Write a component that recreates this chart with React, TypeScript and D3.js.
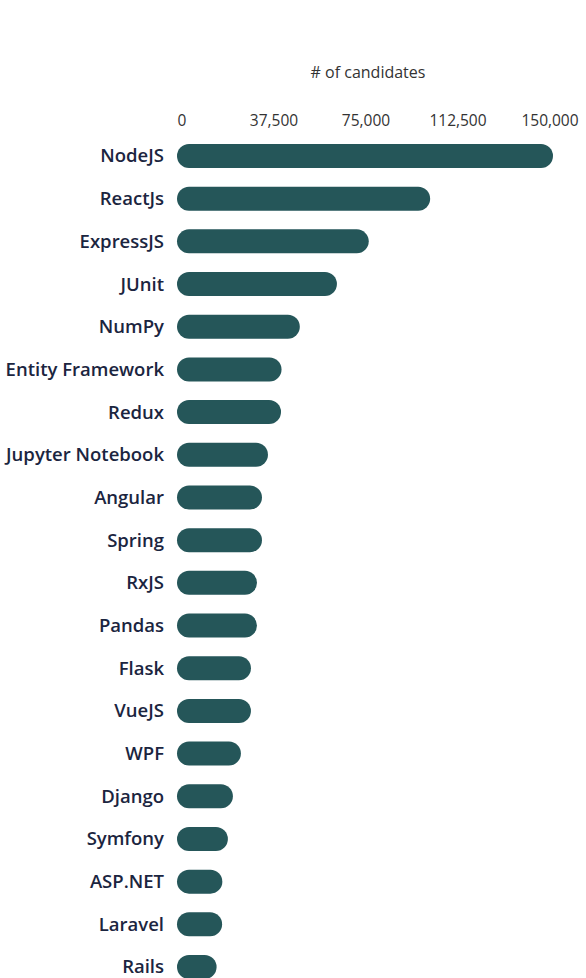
import React, { useEffect, useRef } from "react";
import * as d3 from "d3";

const categories = [
  "NodeJS",
  "ReactJs",
  "ExpressJS",
  "JUnit",
  "NumPy",
  "Entity Framework",
  "Redux",
  "Jupyter Notebook",
  "Angular",
  "Spring",
  "RxJS",
  "Pandas",
  "Flask",
  "VueJS",
  "WPF",
  "Django",
  "Symfony",
  "ASP.NET",
  "Laravel",
  "Rails",
];

const candidates = [
  150000, 101000, 76500, 63800, 49000, 41700, 41500, 36300, 33900, 33900,
  31900, 31900, 29500, 29500, 25500, 22300, 20300, 18100, 18000, 15800,
];

const tickValues = [0, 37500, 75000, 112500, 150000];

const App = () => {
  const svgRef = useRef<SVGSVGElement | null>(null);

  useEffect(() => {
    document.body.style.margin = "0";
    const width = 586;
    const height = 978;
    const barHeight = 24;

    const svg = d3
      .select(svgRef.current)
      .attr("width", width)
      .attr("height", height)
      .style("display", "block")
      .style("font-family", "'Open Sans', sans-serif");

    const x = d3.scaleLinear().domain([0, 150000]).range([177, 553]);
    // tick labels sit slightly inset from the bar extent
    const xTicks = d3.scaleLinear().domain([0, 150000]).range([182, 550]);
    const y = d3.scalePoint<string>().domain(categories).range([156, 967]);

    // axis title
    svg
      .append("text")
      .attr("x", 368)
      .attr("y", 78)
      .attr("text-anchor", "middle")
      .attr("font-size", 16)
      .attr("fill", "#333")
      .text("# of candidates");

    // tick labels
    svg
      .append("g")
      .selectAll("text")
      .data(tickValues)
      .join("text")
      .attr("x", (d) => xTicks(d))
      .attr("y", 126)
      .attr("text-anchor", "middle")
      .attr("font-size", 15.5)
      .attr("fill", "#333")
      .text((d) => d3.format(",")(d));

    const rows = svg
      .append("g")
      .selectAll("g")
      .data(categories)
      .join("g")
      .attr("transform", (d) => `translate(0,${y(d)})`);

    rows
      .append("rect")
      .attr("x", x(0))
      .attr("y", -barHeight / 2)
      .attr("width", (d, i) => x(candidates[i]) - x(0))
      .attr("height", barHeight)
      .attr("rx", barHeight / 2)
      .attr("fill", "#255659");

    rows
      .append("text")
      .attr("x", 164)
      .attr("dy", "0.35em")
      .attr("text-anchor", "end")
      .attr("font-size", 18.5)
      .attr("font-weight", 600)
      .attr("fill", "#1b2540")
      .text((d) => d);

    return () => {
      svg.selectAll("*").remove();
    };
  }, []);

  return <svg ref={svgRef}></svg>;
};

export default App;
